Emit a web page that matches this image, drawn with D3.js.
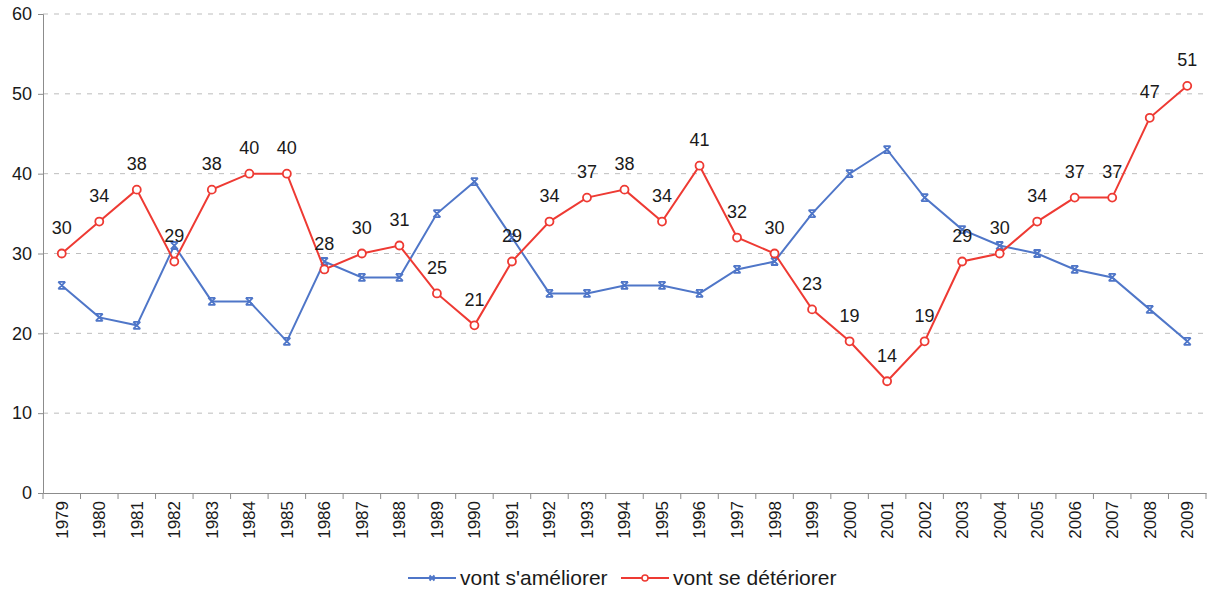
<!DOCTYPE html>
<html>
<head>
<meta charset="utf-8">
<script src="https://cdn.jsdelivr.net/npm/d3@7"></script>
<style>
  body { margin: 0; background: #fff; }
  svg { font-family: "Liberation Sans", Arial, sans-serif; }
</style>
</head>
<body>
<svg id="chart" width="1208" height="592"></svg>
<script>
const years = d3.range(1979, 2010).map(String);
const ameliorer = [26, 22, 21, 31, 24, 24, 19, 29, 27, 27, 35, 39, 32, 25, 25, 26, 26, 25, 28, 29, 35, 40, 43, 37, 33, 31, 30, 28, 27, 23, 19];
const deteriorer = [30, 34, 38, 29, 38, 40, 40, 28, 30, 31, 25, 21, 29, 34, 37, 38, 34, 41, 32, 30, 23, 19, 14, 19, 29, 30, 34, 37, 37, 47, 51];
const yTicks = [0, 10, 20, 30, 40, 50, 60];
const seriesNames = ["vont s'améliorer", "vont se détériorer"];

const blue = "#4f76c8", red = "#ee3a33";

const svg = d3.select("#chart");
const margin = { left: 43, right: 2, top: 14, bottom: 99 };
const width = 1208, height = 592;

const x = d3.scaleBand().domain(years).range([margin.left, width - margin.right]);
const y = d3.scaleLinear().domain([0, 60]).range([height - margin.bottom, margin.top]);

// grid
svg.append("g").selectAll("line").data(yTicks.filter(d => d > 0)).join("line")
  .attr("x1", margin.left).attr("x2", width - margin.right)
  .attr("y1", d => y(d)).attr("y2", d => y(d))
  .attr("stroke", "#bdbdbd").attr("stroke-dasharray", "5,6");

// y axis
const yAxis = svg.append("g").attr("transform", `translate(${margin.left},0)`)
  .call(d3.axisLeft(y).tickValues(yTicks).tickSize(5).tickPadding(6));
yAxis.select(".domain").attr("stroke", "#8c8c8c");
yAxis.selectAll(".tick line").attr("stroke", "#8c8c8c");
yAxis.selectAll("text").attr("font-size", 18).attr("fill", "#1a1a1a").attr("font-family", "Liberation Sans, Arial, sans-serif");

// x axis with ticks at band edges
const xAxis = svg.append("g").attr("transform", `translate(0,${y(0)})`)
  .call(d3.axisBottom(x).tickSize(0).tickPadding(0));
xAxis.select(".domain").attr("stroke", "#8c8c8c");
xAxis.selectAll(".tick text")
  .attr("transform", "rotate(-90)")
  .attr("text-anchor", "end")
  .attr("x", -8).attr("y", 0).attr("dy", "0.35em")
  .attr("font-size", 17).attr("fill", "#1a1a1a")
  .attr("font-family", "Liberation Sans, Arial, sans-serif");
svg.append("g").selectAll("line").data(years.concat(["end"])).join("line")
  .attr("x1", (d, i) => x.range()[0] + i * x.step())
  .attr("x2", (d, i) => x.range()[0] + i * x.step())
  .attr("y1", y(0)).attr("y2", y(0) + 6)
  .attr("stroke", "#8c8c8c");

const cx = (d, i) => x(years[i]) + x.bandwidth() / 2;
const line = d3.line().x(cx).y(d => y(d));

// blue series
svg.append("path").datum(ameliorer).attr("d", line)
  .attr("fill", "none").attr("stroke", blue).attr("stroke-width", 2);
const star = "M-3.5,-3.5L3.5,3.5M-3.5,3.5L3.5,-3.5M-3.5,-3.5H3.5M-3.5,3.5H3.5";
svg.append("g").selectAll("path").data(ameliorer).join("path")
  .attr("transform", (d, i) => `translate(${cx(d, i)},${y(d)})`)
  .attr("d", star).attr("stroke", blue).attr("stroke-width", 1.8).attr("fill", "none");

// red series
svg.append("path").datum(deteriorer).attr("d", line)
  .attr("fill", "none").attr("stroke", red).attr("stroke-width", 2);
svg.append("g").selectAll("circle").data(deteriorer).join("circle")
  .attr("cx", cx).attr("cy", d => y(d)).attr("r", 4)
  .attr("fill", "#fff").attr("stroke", red).attr("stroke-width", 1.8);

// labels
svg.append("g").selectAll("text").data(deteriorer).join("text")
  .attr("x", cx).attr("y", d => y(d) - 26).attr("dy", "0.35em")
  .attr("text-anchor", "middle").attr("font-size", 18).attr("fill", "#1a1a1a")
  .text(d => d);

// legend
const legend = svg.append("g").attr("transform", "translate(0,578)");
const items = [
  { name: seriesNames[0], color: blue, x0: 408, type: "star" },
  { name: seriesNames[1], color: red, x0: 621, type: "circle" }
];
items.forEach(it => {
  const g = legend.append("g").attr("transform", `translate(${it.x0},0)`);
  g.append("line").attr("x1", 0).attr("x2", 48).attr("stroke", it.color).attr("stroke-width", 2);
  if (it.type === "star") {
    g.append("path").attr("transform", "translate(24,0)").attr("d", "M-2.5,-2.5L2.5,2.5M-2.5,2.5L2.5,-2.5")
      .attr("stroke", it.color).attr("stroke-width", 2);
  } else {
    g.append("circle").attr("cx", 24).attr("r", 3).attr("fill", "#fff").attr("stroke", it.color).attr("stroke-width", 1.5);
  }
  g.append("text").attr("x", 52).attr("dy", "0.35em").attr("font-size", 21).attr("fill", "#1a1a1a").text(it.name);
});
</script>
</body>
</html>
